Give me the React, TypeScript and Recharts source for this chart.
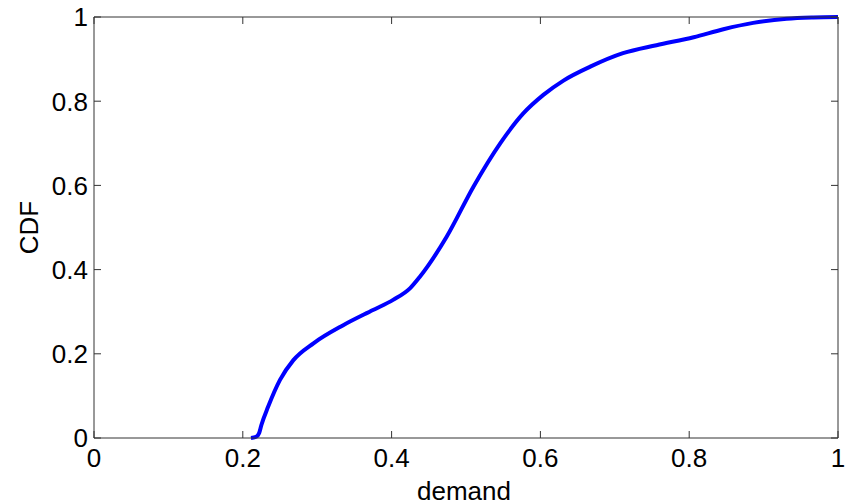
import { LineChart, Line, XAxis, YAxis, Label } from "recharts";

// empirical CDF of demand
const demand = [
  0.211, 0.218, 0.222, 0.225, 0.234, 0.25, 0.268, 0.295, 0.335, 0.375, 0.402, 0.425, 0.438,
  0.474, 0.51, 0.546, 0.577, 0.604, 0.631, 0.667, 0.711, 0.756, 0.806, 0.846, 0.886, 0.931,
  0.967, 1.0,
];
const cdf = [
  0.0, 0.003, 0.012, 0.031, 0.074, 0.138, 0.185, 0.225, 0.268, 0.304, 0.328, 0.356, 0.383,
  0.478, 0.597, 0.7, 0.771, 0.815, 0.849, 0.882, 0.914, 0.933, 0.952, 0.971, 0.986, 0.996,
  0.999, 1.0,
];
const ticks = [0, 0.2, 0.4, 0.6, 0.8, 1];

const data = demand.map((d, i) => ({ demand: d, cdf: cdf[i] }));

const FONT = "'Liberation Sans', Arial, Helvetica, sans-serif";
const AXIS = "#333";
const TICK = 7;
const fmt = (v: number) => String(+v.toFixed(1));

const BottomTick = ({ x, y, payload }: any) => (
  <g>
    <line x1={x} y1={y} x2={x} y2={y - TICK} stroke={AXIS} />
    <text x={x} y={y + 29} textAnchor="middle" fill="#000" fontSize={26} fontFamily={FONT}>
      {fmt(payload.value)}
    </text>
  </g>
);

const LeftTick = ({ x, y, payload }: any) => (
  <g>
    <line x1={x} y1={y} x2={x + TICK} y2={y} stroke={AXIS} />
    <text x={x - 6} y={y} dy="0.36em" textAnchor="end" fill="#000" fontSize={26} fontFamily={FONT}>
      {fmt(payload.value)}
    </text>
  </g>
);

const TopTick = ({ x, y }: any) => <line x1={x} y1={y} x2={x} y2={y + TICK} stroke={AXIS} />;
const RightTick = ({ x, y }: any) => <line x1={x} y1={y} x2={x - TICK} y2={y} stroke={AXIS} />;

export default function App() {
  return (
    <div style={{ width: 852, height: 504, background: "#fff" }}>
      <style>{"body{margin:0}"}</style>
      <LineChart width={852} height={504} data={data} margin={{ top: 0, right: 13, bottom: 0, left: 0 }}>
        <XAxis
          dataKey="demand"
          type="number"
          domain={[0, 1]}
          ticks={ticks}
          interval={0}
          height={66}
          tickSize={0}
          tickMargin={0}
          tickLine={false}
          axisLine={{ stroke: AXIS }}
          tick={<BottomTick />}
        >
          <Label
            content={({ viewBox }: any) => (
              <text
                x={viewBox.x + viewBox.width / 2 - 2}
                y={500}
                textAnchor="middle"
                fill="#000"
                fontSize={26}
                fontFamily={FONT}
              >
                demand
              </text>
            )}
          />
        </XAxis>
        {/* mirrored box axes on top and right, ticks pointing inward */}
        <XAxis
          xAxisId="top"
          orientation="top"
          dataKey="demand"
          type="number"
          domain={[0, 1]}
          ticks={ticks}
          interval={0}
          height={17}
          tickSize={0}
          tickMargin={0}
          tickLine={false}
          axisLine={{ stroke: AXIS }}
          tick={<TopTick />}
        />
        <YAxis
          type="number"
          domain={[0, 1]}
          ticks={ticks}
          interval={0}
          width={94}
          tickSize={0}
          tickMargin={0}
          tickLine={false}
          axisLine={{ stroke: AXIS }}
          tick={<LeftTick />}
        >
          <Label
            content={({ viewBox }: any) => {
              const cy = viewBox.y + viewBox.height / 2;
              return (
                <text
                  x={38}
                  y={cy}
                  transform={`rotate(-90 38 ${cy})`}
                  textAnchor="middle"
                  fill="#000"
                  fontSize={26}
                  fontFamily={FONT}
                >
                  CDF
                </text>
              );
            }}
          />
        </YAxis>
        <YAxis
          yAxisId="right"
          orientation="right"
          type="number"
          domain={[0, 1]}
          ticks={ticks}
          interval={0}
          width={1}
          tickSize={0}
          tickMargin={0}
          tickLine={false}
          axisLine={{ stroke: AXIS }}
          tick={<RightTick />}
        />
        {/* same series bound to the box axes so they get drawn */}
        <Line
          xAxisId="top"
          yAxisId="right"
          dataKey="cdf"
          stroke="none"
          dot={false}
          activeDot={false}
          legendType="none"
          isAnimationActive={false}
        />
        <Line
          dataKey="cdf"
          type="monotone"
          stroke="#0000ff"
          strokeWidth={4}
          dot={false}
          activeDot={false}
          isAnimationActive={false}
        />
      </LineChart>
    </div>
  );
}
